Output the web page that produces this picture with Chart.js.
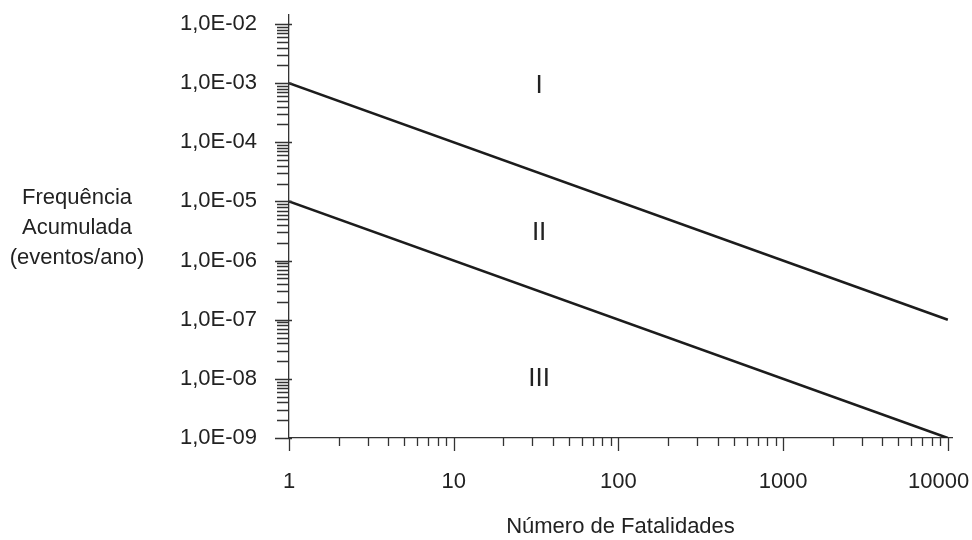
<!DOCTYPE html>
<html>
<head>
<meta charset="utf-8">
<script src="https://cdn.jsdelivr.net/npm/chart.js@4.4.1/dist/chart.umd.min.js"></script>
<style>
  html, body { margin: 0; background: #fff; }
  canvas { display: block; }
</style>
</head>
<body>
<canvas id="chart" width="972" height="540"></canvas>
<script>
// Data
const fatalities = [1, 10000];
const upperLine = [1e-3, 1e-7];
const lowerLine = [1e-5, 1e-9];
const xTicks = [1, 10, 100, 1000, 10000];
const yTicks = [1e-9, 1e-8, 1e-7, 1e-6, 1e-5, 1e-4, 1e-3, 1e-2];
const regionLabels = ['I', 'II', 'III'];
const regionX = [33, 33, 33];
const regionY = [9e-4, 2.9e-6, 1e-8];
const yTitleLines = ['Frequência', 'Acumulada', '(eventos/ano)'];
const xTitle = 'Número de Fatalidades';

const FONT = "'Liberation Sans', Arial, sans-serif";
const INK = '#222';

function formatSci(v) {
  // 1e-3 -> "1,0E-03"
  const exp = Math.round(Math.log10(v));
  const sign = exp < 0 ? '-' : '+';
  return '1,0E' + sign + String(Math.abs(exp)).padStart(2, '0');
}

// minor ticks, region labels and the horizontal y title
const decorPlugin = {
  id: 'decor',
  afterDraw(chart) {
    const ctx = chart.ctx;
    const x = chart.scales.x;
    const y = chart.scales.y;
    const left = chart.chartArea.left;
    const bottom = chart.chartArea.bottom;

    ctx.save();
    ctx.strokeStyle = '#333';
    ctx.lineWidth = 1.3;
    ctx.beginPath();

    // y axis ticks
    for (let i = 0; i < yTicks.length; i++) {
      const d = yTicks[i];
      const py = Math.round(y.getPixelForValue(d)) + 0.5;
      ctx.moveTo(left - 14, py);
      ctx.lineTo(left + 3, py);
      if (i === yTicks.length - 1) break;
      for (let m = 2; m <= 9; m++) {
        const pm = Math.round(y.getPixelForValue(d * m)) + 0.5;
        ctx.moveTo(left - 12, pm);
        ctx.lineTo(left, pm);
      }
    }

    // x axis ticks
    for (let i = 0; i < xTicks.length; i++) {
      const d = xTicks[i];
      const px = Math.round(x.getPixelForValue(d)) + 0.5;
      ctx.moveTo(px, bottom);
      ctx.lineTo(px, bottom + 13);
      if (i === xTicks.length - 1) break;
      for (let m = 2; m <= 9; m++) {
        const pm = Math.round(x.getPixelForValue(d * m)) + 0.5;
        ctx.moveTo(pm, bottom);
        ctx.lineTo(pm, bottom + 8);
      }
    }
    ctx.stroke();

    ctx.fillStyle = INK;
    ctx.font = '26px ' + FONT;
    ctx.textAlign = 'center';
    ctx.textBaseline = 'middle';
    regionLabels.forEach((t, i) => {
      ctx.fillText(t, x.getPixelForValue(regionX[i]), y.getPixelForValue(regionY[i]));
    });

    ctx.font = '22px ' + FONT;
    yTitleLines.forEach((t, i) => {
      ctx.fillText(t, 77, 228 + (i - 1) * 30);
    });
    ctx.restore();
  }
};

const lineStyle = {
  borderColor: '#1c1c1c',
  borderWidth: 2.6,
  pointRadius: 0,
  fill: false,
  tension: 0
};

new Chart(document.getElementById('chart'), {
  type: 'line',
  data: {
    datasets: [
      Object.assign({ data: fatalities.map((f, i) => ({ x: f, y: upperLine[i] })) }, lineStyle),
      Object.assign({ data: fatalities.map((f, i) => ({ x: f, y: lowerLine[i] })) }, lineStyle)
    ]
  },
  options: {
    responsive: false,
    animation: false,
    layout: { padding: { top: 15, right: 20, bottom: 2, left: 0 } },
    plugins: {
      legend: { display: false },
      tooltip: { enabled: false }
    },
    scales: {
      x: {
        type: 'logarithmic',
        min: 1,
        max: 10600,
        grid: { display: false, drawTicks: false },
        border: { display: true, color: '#333', width: 1.3 },
        afterBuildTicks: s => { s.ticks = xTicks.map(v => ({ value: v })); },
        afterFit: s => { s.height = 100; s.paddingLeft = 0; s.paddingRight = 0; },
        ticks: {
          color: INK,
          font: { family: FONT, size: 22 },
          padding: 31,
          maxRotation: 0,
          autoSkip: false,
          // last label sits a little left of its tick in the reference
          callback: v => v === 10000 ? String(v) + '\u00a0\u00a0\u00a0' : String(v)
        },
        title: {
          display: true,
          text: xTitle,
          color: INK,
          font: { family: FONT, size: 22, lineHeight: 1 },
          padding: { top: 0, bottom: 0 }
        }
      },
      y: {
        type: 'logarithmic',
        min: 1e-9,
        max: 1.42e-2,
        grid: { display: false, drawTicks: false },
        border: { display: true, color: '#333', width: 1.3 },
        afterBuildTicks: s => { s.ticks = yTicks.map(v => ({ value: v })); },
        afterFit: s => { s.width = 289; s.paddingTop = 0; s.paddingBottom = 0; },
        ticks: {
          color: INK,
          font: { family: FONT, size: 22 },
          padding: 32,
          autoSkip: false,
          callback: v => formatSci(v)
        }
      }
    }
  },
  plugins: [decorPlugin]
});
</script>
</body>
</html>
